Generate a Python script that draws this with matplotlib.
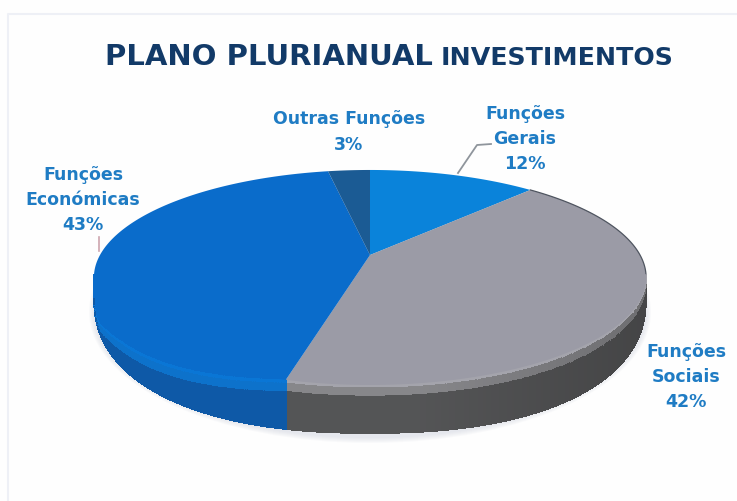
import numpy as np
import matplotlib
matplotlib.use("Agg")
import matplotlib.pyplot as plt
from matplotlib.collections import PolyCollection
from matplotlib.patches import Ellipse

# dados
fatias = ["Funções\nGerais", "Funções\nSociais", "Funções\nEconómicas", "Outras Funções"]
valores = [12, 42, 43, 3]
cores_topo = ["#0a83da", "#9b9ba6", "#0a6ccb", "#1b5b94"]
cores_aro = ["#0a83da", "#adadb2", "#0a80e0", "#1b5b94"]
cores_meio = ["#0a6ccb", "#606062", "#0f63b6", "#1b5b94"]
cores_base = ["#0a5cab", "#48494a", "#0d4f98", "#123f6b"]

# geometria da tampa (perspectiva) e da base, em pixels
CX, CY_APEX = 370.0, 255.0
K, A, B = 0.209, 270.0, 102.8
BASE_CY, BASE_RX, BASE_RY, BASE_P = 297.0, 276.0, 136.0, 2.3


def rgb(c):
    return np.array(matplotlib.colors.to_rgb(c))


def ponto_tampa(theta):
    u, v = np.cos(theta), np.sin(theta)
    d = 1 + K * v
    return CX + A * u / d, CY_APEX - B * v / d


def y_base(x):
    t = np.clip(np.abs(x - CX) / BASE_RX, 0, 1)
    return BASE_CY + BASE_RY * (1 - t ** BASE_P) ** (1 / BASE_P)


fig = plt.figure(figsize=(7.37, 5.01), dpi=100, facecolor="#fefefe")
ax = fig.add_axes([0, 0, 1, 1])
ax.set_xlim(0, 737)
ax.set_ylim(501, 0)
ax.axis("off")

# moldura fraca do scan
ax.plot([737, 8, 8], [14, 14, 501], color="#eef0f6", lw=1.5)

# sombra
for i in range(6):
    ax.add_patch(Ellipse((CX, 312), 2 * BASE_RX + 10 - i * 2, 262 - i * 2,
                         fc="#c8cfdc", ec="none", alpha=0.09))

angulos = 90 - np.cumsum([0] + valores) * 3.6

# parede lateral
for i in range(len(valores)):
    th = np.radians(np.linspace(angulos[i], angulos[i + 1], 300))
    x, y = ponto_tampa(th)
    quads, cores = [], []
    for j in range(len(th) - 1):
        if y[j] < CY_APEX + 20 or y[j + 1] < CY_APEX + 20:
            continue
        yb0, yb1 = y_base(x[j]), y_base(x[j + 1])
        escala = 1 - 0.18 * np.clip((x[j] - 420) / 220, 0, 1)
        # chanfro: junto a esquerda o topo desce mais antes do brilho
        xm = (x[j] + x[j + 1]) / 2
        f0 = np.clip(0.45 * (287 - xm) / 188, 0, None) + 0.6 * np.exp(-(xm - 93) / 9)
        frac = [0, min(f0, 1), min(f0 + 0.07, 1), min(f0 + 0.24, 1), 1.0]
        niveis = [rgb(cores_topo[i]), rgb(cores_topo[i]), rgb(cores_aro[i]), rgb(cores_meio[i]), rgb(cores_base[i])]
        for n in range(4):
            a0, a1 = frac[n], frac[n + 1]
            quads.append([(x[j], y[j] + a0 * (yb0 - y[j])), (x[j + 1], y[j + 1] + a0 * (yb1 - y[j + 1])),
                          (x[j + 1], y[j + 1] + a1 * (yb1 - y[j + 1])), (x[j], y[j] + a1 * (yb0 - y[j]))])
            cores.append((niveis[n] + niveis[n + 1]) / 2 * (escala if n > 1 else 1))
    if quads:
        ax.add_collection(PolyCollection(quads, facecolors=cores, edgecolors=cores, linewidths=0.5,
                                         antialiaseds=False))

# tampa da pizza
for i in range(len(valores)):
    th = np.radians(np.linspace(angulos[i], angulos[i + 1], 200))
    x, y = ponto_tampa(th)
    ax.fill(np.r_[CX, x], np.r_[CY_APEX, y], color=cores_topo[i], lw=0)

# contorno escuro no arco superior direito
x, y = ponto_tampa(np.radians(np.linspace(angulos[1], angulos[0] - 100, 100)))
ax.plot(x, y, color="#4f5560", lw=0.9)

# linhas de chamada
ax.plot([458, 477, 491], [173, 145, 144], color="#8f959c", lw=1.3)
ax.plot([99, 99], [237, 251], color="#cda5ae", lw=1.2)

# titulo
cor_titulo = "#123a68"
ax.text(105, 65, "PLANO PLURIANUAL", fontfamily="DejaVu Sans", fontweight="bold", fontsize=21,
        color=cor_titulo, ha="left", va="baseline")
ax.text(441, 65, "INVESTIMENTOS", fontfamily="DejaVu Sans", fontweight="bold", fontsize=18.2,
        color=cor_titulo, ha="left", va="baseline")

# rotulos
cor_rotulo = "#1f7cc4"
pos_rotulos = [(525, 139), (686, 377), (83, 200), (349, 132)]
for nome, v, (px, py) in zip(fatias, valores, pos_rotulos):
    ax.text(px, py, f"{nome}\n{v}%", fontfamily="DejaVu Sans", fontweight="bold", fontsize=12.5,
            color=cor_rotulo, ha="center", va="center", linespacing=1.5)

fig.savefig("out.png", dpi=100, facecolor=fig.get_facecolor())
